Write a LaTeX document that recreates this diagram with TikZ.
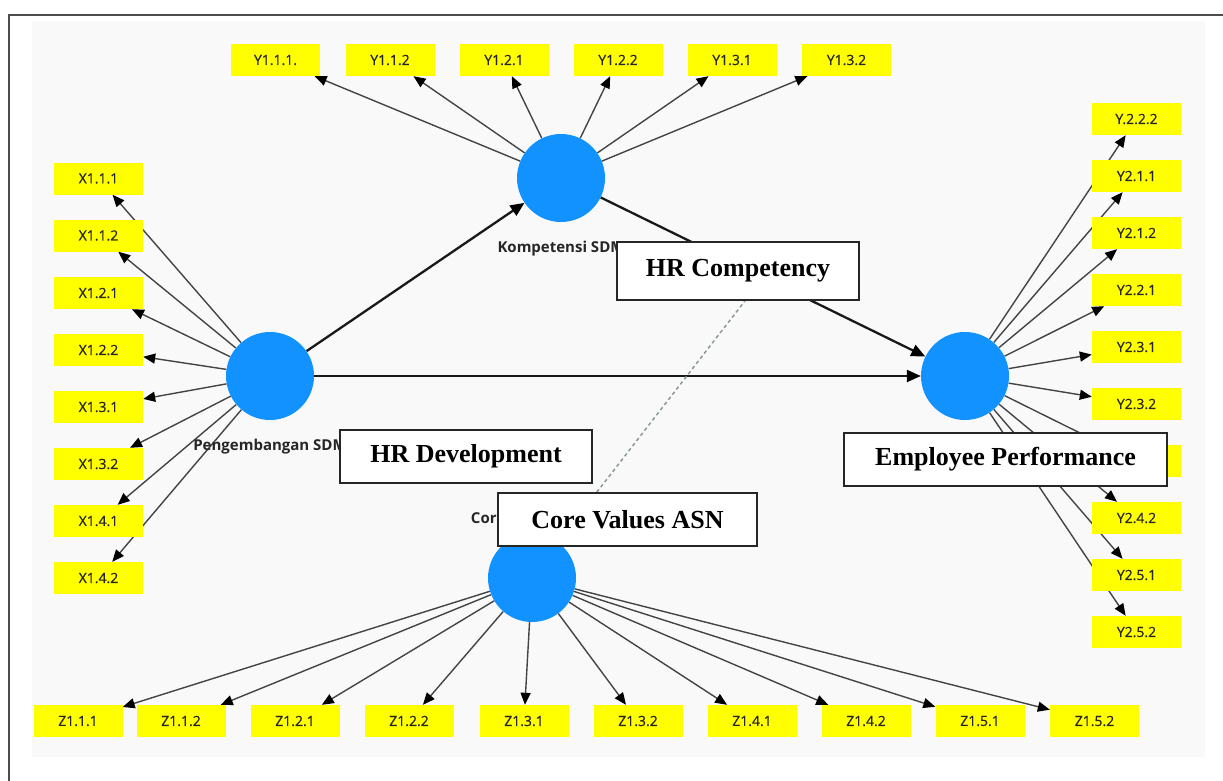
\documentclass[tikz,border=0pt]{standalone}
\usepackage{fontspec}
\setmainfont{Open Sans}
\newfontfamily\serifb{Liberation Serif}
\newfontfamily\lblfont{Open Sans}[FakeBold=0.6]
\usetikzlibrary{arrows.meta,calc}
\pgfdeclarelayer{bg}\pgfdeclarelayer{edges}\pgfdeclarelayer{top}
\pgfsetlayers{bg,edges,main,top}
\definecolor{lvblue}{RGB}{18,146,255}
\definecolor{ybox}{RGB}{255,255,0}
\definecolor{canvas}{RGB}{249,249,249}
\definecolor{indc}{RGB}{68,68,68}
\definecolor{dashc}{RGB}{138,154,140}
\tikzset{
  ibox/.style={fill=ybox, minimum width=89pt, minimum height=32pt, inner sep=0pt,
    font=\lblfont\fontsize{14}{15}\selectfont, text=black!85},
  lv/.style={circle, fill=lvblue, minimum size=88pt, inner sep=0pt},
  lvname/.style={font=\bfseries\fontsize{15}{16}\selectfont, text=black!85, inner sep=0pt},
  ld/.style={draw=indc, line width=1.4pt, -{Triangle[length=12pt,width=10pt,color=black]}},
  sp/.style={draw=black!90, line width=2.3pt, -{Triangle[length=14pt,width=12pt,color=black]}},
  eng/.style={draw=black!85, line width=1.5pt, fill=white, inner sep=0pt,
    font=\serifb\bfseries\fontsize{26}{28}\selectfont},
}
\begin{document}
\begin{tikzpicture}[x=1pt,y=-1pt]
\useasboundingbox (0,0) rectangle (1223,781);
\begin{pgfonlayer}{bg}
  \fill[canvas] (32,21) rectangle (1205,757);
  \draw[black!70, line width=1.3pt] (9,781) -- (9,15) -- (1223,15);
\end{pgfonlayer}
% latent variables
\node[lv] (kom) at (561,178) {};
\node[lv] (pen) at (270,376) {};
\node[lv] (emp) at (965,376) {};
\node[lv] (cor) at (532,578) {};
\node[lvname] (komlbl) at (561,249) {Kompetensi SDM};
\node[lvname] (penlbl) at (270,447) {Pengembangan SDM};
\node[lvname] (corlbl) at (532,518) {Core Values ASN};
% indicators
\foreach \n/\x/\t in {ya/275.5/Y1.1.1., yb/390/Y1.1.2, yc/504/Y1.2.1, yd/618/Y1.2.2, ye/732/Y1.3.1, yf/846.5/Y1.3.2}
  \node[ibox] (\n) at (\x,60) {\t};
\foreach \n/\y/\t in {xa/178.5/X1.1.1, xb/235.5/X1.1.2, xc/293/X1.2.1, xd/350/X1.2.2, xe/407/X1.3.1, xf/464/X1.3.2, xg/521/X1.4.1, xh/578/X1.4.2}
  \node[ibox] (\n) at (98.5,\y) {\t};
\foreach \n/\y/\t in {ra/119/Y.2.2.2, rb/176/Y2.1.1, rc/233/Y2.1.2, rd/290/Y2.2.1, re/347/Y2.3.1, rf/404/Y2.3.2, rh/518/Y2.4.2, ri/575/Y2.5.1, rj/632/Y2.5.2}
  \node[ibox] (\n) at (1136.5,\y) {\t};
\node[ibox] (rg) at (1136.5,461) {};
\foreach \n/\x/\t in {za/78/Z1.1.1, zb/181/Z1.1.2, zc/295/Z1.2.1, zd/409/Z1.2.2, ze/524/Z1.3.1, zf/638/Z1.3.2, zg/752/Z1.4.1, zh/866/Z1.4.2, zi/980/Z1.5.1, zj/1094.5/Z1.5.2}
  \node[ibox] (\n) at (\x,721) {\t};
% English labels
\begin{pgfonlayer}{top}
  \node[eng, minimum width=242pt, minimum height=58pt] (hrc) at (738,271) {HR Competency};
  \node[eng, minimum width=252pt, minimum height=53pt] (hrd) at (466,456.5) {HR Development};
  \node[eng, minimum width=259pt, minimum height=53pt] (cva) at (627.5,519.5) {Core Values ASN};
  \node[eng, minimum width=323pt, minimum height=53pt] (epf) at (1005.5,459.5) {Employee Performance};
\end{pgfonlayer}
\begin{pgfonlayer}{edges}
  \foreach \n in {ya,yb,yc,yd,ye,yf} \draw[ld] (kom) -- (\n);
  \foreach \n in {xa,xb,xc,xd,xe,xf,xg,xh} \draw[ld] (pen) -- (\n);
  \foreach \n in {ra,rb,rc,rd,re,rf,rg,rh,ri,rj} \draw[ld] (emp) -- (\n);
  \foreach \n in {za,zb,zc,zd,ze,zf,zg,zh,zi,zj} \draw[ld] (cor) -- (\n);
  \draw[sp] (pen) -- (kom);
  \draw[sp] (pen) -- (emp);
  \draw[sp] (kom) -- (emp);
  \draw[dashc, line width=1.5pt, dash pattern=on 3.5pt off 3pt]
    ($(cva.north west)!0.382!(cva.north east)$) -- ($(hrc.south west)!0.529!(hrc.south east)$);
\end{pgfonlayer}
\end{tikzpicture}
\end{document}
